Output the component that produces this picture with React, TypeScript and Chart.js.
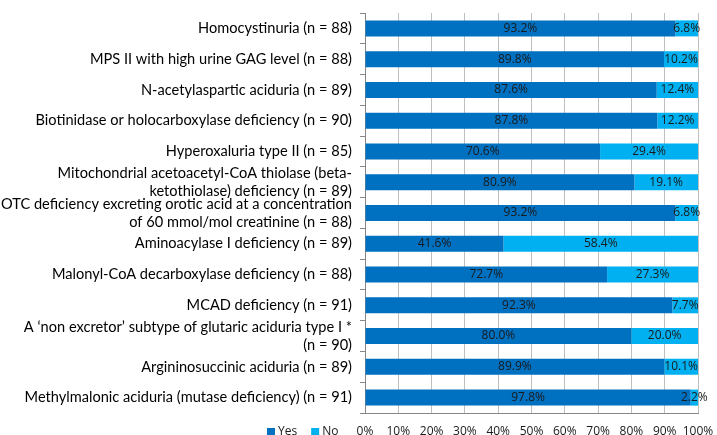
import React, { useEffect, useRef } from "react";
import { Chart, registerables } from "chart.js";

Chart.register(...registerables);

const categories: (string | string[])[] = [
  "Homocystinuria (n = 88)",
  "MPS II with high urine GAG level (n = 88)",
  "N-acetylaspartic aciduria (n = 89)",
  "Biotinidase or holocarboxylase deficiency (n = 90)",
  "Hyperoxaluria type II (n = 85)",
  ["Mitochondrial acetoacetyl-CoA thiolase (beta-", "ketothiolase) deficiency (n = 89)"],
  ["OTC deficiency excreting orotic acid at a concentration", "of 60 mmol/mol creatinine (n = 88)"],
  "Aminoacylase I deficiency (n = 89)",
  "Malonyl-CoA decarboxylase deficiency (n = 88)",
  "MCAD deficiency (n = 91)",
  ["A \u2018non excretor\u2019 subtype of glutaric aciduria type I *", "(n = 90)"],
  "Argininosuccinic aciduria (n = 89)",
  "Methylmalonic aciduria (mutase deficiency) (n = 91)",
];

const yesValues = [93.2, 89.8, 87.6, 87.8, 70.6, 80.9, 93.2, 41.6, 72.7, 92.3, 80.0, 89.9, 97.8];
const noValues = [6.8, 10.2, 12.4, 12.2, 29.4, 19.1, 6.8, 58.4, 27.3, 7.7, 20.0, 10.1, 2.2];

const seriesNames = ["Yes", "No"];
const seriesColors = ["#0070C0", "#00B0F0"];

const xTickValues = [0, 10, 20, 30, 40, 50, 60, 70, 80, 90, 100];

const smallFont = "'Open Sans'";

const dataLabelPlugin = {
  id: "dataLabels",
  afterDatasetsDraw(chart: any) {
    const ctx = chart.ctx;
    ctx.save();
    ctx.font = `12px ${smallFont}`;
    ctx.fillStyle = "#1a1a1a";
    ctx.textAlign = "center";
    ctx.textBaseline = "middle";
    chart.data.datasets.forEach((ds: any, di: number) => {
      const meta = chart.getDatasetMeta(di);
      meta.data.forEach((bar: any, i: number) => {
        const p = bar.getProps(["x", "y", "base"], true);
        const cx = (p.x + p.base) / 2;
        ctx.fillText(ds.data[i].toFixed(1) + "%", cx, p.y);
      });
    });
    ctx.restore();
  },
};

const legendPlugin = {
  id: "customLegend",
  afterDraw(chart: any) {
    const ctx = chart.ctx;
    const area = chart.chartArea;
    ctx.save();
    ctx.font = `12px ${smallFont}`;
    ctx.textBaseline = "middle";
    ctx.textAlign = "left";
    let x = area.left - 98;
    const y = area.bottom + 19;
    seriesNames.forEach((name, i) => {
      ctx.fillStyle = seriesColors[i];
      ctx.fillRect(x, y - 4, 8, 8);
      ctx.fillStyle = "#1a1a1a";
      ctx.fillText(name, x + 11, y);
      x += 11 + ctx.measureText(name).width + 14;
    });
    ctx.restore();
  },
};

export default function App() {
  const canvasRef = useRef<HTMLCanvasElement | null>(null);

  useEffect(() => {
    if (!canvasRef.current) return;
    const chart = new Chart(canvasRef.current, {
      type: "bar",
      data: {
        labels: categories,
        datasets: [
          {
            label: seriesNames[0],
            data: yesValues,
            backgroundColor: seriesColors[0],
            barPercentage: 0.52,
            categoryPercentage: 1,
          },
          {
            label: seriesNames[1],
            data: noValues,
            backgroundColor: seriesColors[1],
            barPercentage: 0.52,
            categoryPercentage: 1,
          },
        ],
      },
      options: {
        indexAxis: "y",
        animation: false,
        responsive: false,
        maintainAspectRatio: false,
        layout: { padding: { top: 13, right: 19, left: 0, bottom: 0 } },
        plugins: {
          legend: { display: false },
          tooltip: { enabled: false },
        },
        scales: {
          x: {
            stacked: true,
            min: 0,
            max: 100,
            afterBuildTicks(scale: any) {
              scale.ticks = xTickValues.map((v) => ({ value: v }));
            },
            afterFit(scale: any) {
              scale.height = 22;
              scale.paddingLeft = 0;
              scale.paddingRight = 0;
            },
            ticks: {
              callback: (v: any) => v + "%",
              font: { family: "Open Sans", size: 12 },
              color: "#1a1a1a",
              padding: 11,
              maxRotation: 0,
              autoSkip: false,
            },
            grid: {
              color: "#BFBFBF",
              drawTicks: false,
            },
            border: { color: "#868686" },
          },
          y: {
            stacked: true,
            afterFit(scale: any) {
              scale.width = 365;
              scale.paddingTop = 0;
              scale.paddingBottom = 0;
            },
            ticks: {
              font: { family: "Lato", size: 14.6, lineHeight: 1.22 },
              color: "#000000",
              padding: 8,
              autoSkip: false,
            },
            grid: {
              offset: true,
              drawOnChartArea: false,
              drawTicks: true,
              tickLength: 5,
              color: "#868686",
            },
            border: { color: "#868686" },
          },
        },
      },
      plugins: [dataLabelPlugin, legendPlugin],
    });
    return () => chart.destroy();
  }, []);

  return (
    <div style={{ position: "fixed", left: 0, top: 0, width: 717, height: 435, background: "#fff" }}>
      <canvas ref={canvasRef} width={717} height={435} style={{ width: 717, height: 435 }} />
    </div>
  );
}
